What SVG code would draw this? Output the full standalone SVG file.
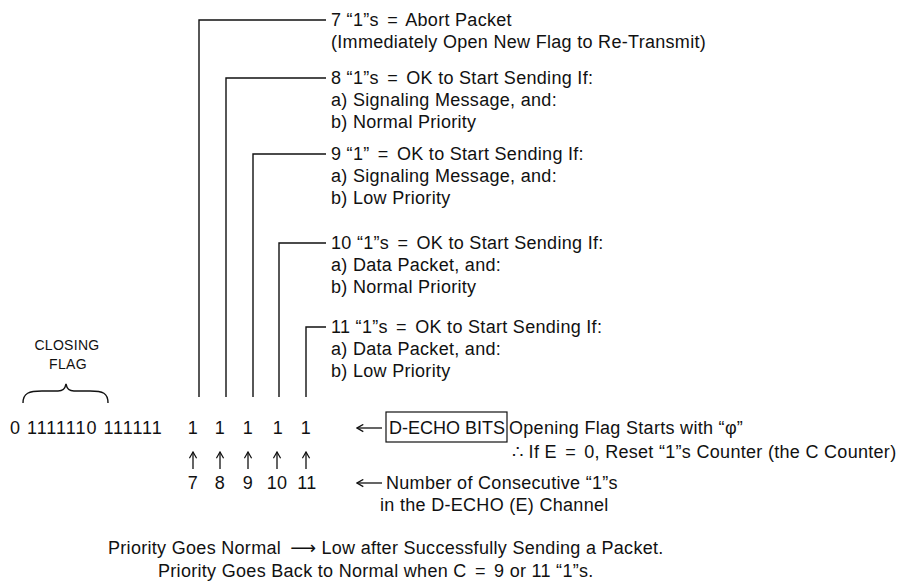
<svg xmlns="http://www.w3.org/2000/svg" width="906" height="587" viewBox="0 0 906 587">
<defs>
<style>
text{font-family:"Liberation Sans",Arial,Helvetica,sans-serif;font-size:18px;fill:#111;letter-spacing:0.3px}
.small{font-size:14px;letter-spacing:0.3px}
.bits{letter-spacing:1px}
.box{letter-spacing:0}
.ln{fill:none;stroke:#111;stroke-width:1.4}
.ar{fill:none;stroke:#111;stroke-width:1.3}
.la{font-family:"DejaVu Sans",sans-serif;letter-spacing:0}
</style>
<marker id="head" viewBox="0 0 10 10" refX="9" refY="5" markerWidth="9" markerHeight="9" markerUnits="userSpaceOnUse" orient="auto">
<path d="M2,1 L9,5 L2,9" fill="none" stroke="#111" stroke-width="1.4"/>
</marker>
</defs>
<rect width="906" height="587" fill="#fff"/>

<g id="connectors">
<path class="ln" d="M199,397 V20 H326"/>
<path class="ln" d="M226,397 V78 H326"/>
<path class="ln" d="M253,397 V154 H326"/>
<path class="ln" d="M279,397 V243 H326"/>
<path class="ln" d="M306,397 V327 H326"/>
</g>

<g id="note7">
<text x="331" y="26">7 “1”s <tspan dx="3">=</tspan><tspan dx="3"> Abort Packet</tspan></text>
<text x="331" y="48">(Immediately Open New Flag to Re-Transmit)</text>
</g>
<g id="note8">
<text x="331" y="84">8 “1”s <tspan dx="3">=</tspan><tspan dx="3"> OK to Start Sending If:</tspan></text>
<text x="331" y="106">a) Signaling Message, and:</text>
<text x="331" y="128">b) Normal Priority</text>
</g>
<g id="note9">
<text x="331" y="160">9 “1” <tspan dx="3">=</tspan><tspan dx="3"> OK to Start Sending If:</tspan></text>
<text x="331" y="182">a) Signaling Message, and:</text>
<text x="331" y="204">b) Low Priority</text>
</g>
<g id="note10">
<text x="331" y="249">10 “1”s <tspan dx="3">=</tspan><tspan dx="3"> OK to Start Sending If:</tspan></text>
<text x="331" y="271">a) Data Packet, and:</text>
<text x="331" y="293">b) Normal Priority</text>
</g>
<g id="note11">
<text x="331" y="333">11 “1”s <tspan dx="3">=</tspan><tspan dx="3"> OK to Start Sending If:</tspan></text>
<text x="331" y="355">a) Data Packet, and:</text>
<text x="331" y="377">b) Low Priority</text>
</g>

<g id="closing-flag">
<text class="small" x="67" y="350" text-anchor="middle">CLOSING</text>
<text class="small" x="68" y="369" text-anchor="middle">FLAG</text>
<path class="ln" d="M23,403 C23,393 29,391 42,391 L58,391 C63,391 65,389 66,384 C67,389 69,391 74,391 L90,391 C103,391 108,393 108,403"/>
</g>

<g id="bits">
<text class="bits" x="10" y="434">0 1111110 111111</text>
<text x="193" y="434" text-anchor="middle">1</text>
<text x="220" y="434" text-anchor="middle">1</text>
<text x="248" y="434" text-anchor="middle">1</text>
<text x="278" y="434" text-anchor="middle">1</text>
<text x="306" y="434" text-anchor="middle">1</text>
</g>

<g id="up-arrows">
<path class="ar" d="M193,469 V452" marker-end="url(#head)"/>
<path class="ar" d="M220,469 V452" marker-end="url(#head)"/>
<path class="ar" d="M248,469 V452" marker-end="url(#head)"/>
<path class="ar" d="M277,469 V452" marker-end="url(#head)"/>
<path class="ar" d="M306,469 V452" marker-end="url(#head)"/>
</g>

<g id="counts">
<text x="193" y="489" text-anchor="middle">7</text>
<text x="220" y="489" text-anchor="middle">8</text>
<text x="248" y="489" text-anchor="middle">9</text>
<text x="277" y="489" text-anchor="middle">10</text>
<text x="307" y="489" text-anchor="middle">11</text>
</g>

<g id="decho">
<path class="ar" d="M382,428 H357" marker-end="url(#head)"/>
<rect x="386" y="412" width="121" height="30" fill="none" stroke="#111" stroke-width="1.2"/>
<text class="box" x="389" y="434">D-ECHO BITS</text>
<text x="509" y="434">Opening Flag Starts with “φ”</text>
<text x="512" y="458">∴ If E <tspan dx="3">=</tspan><tspan dx="3"> 0, Reset “1”s Counter (the C Counter)</tspan></text>
</g>

<g id="count-label">
<path class="ar" d="M382,483 H357" marker-end="url(#head)"/>
<text x="386" y="489">Number of Consecutive “1”s</text>
<text x="380" y="511">in the D-ECHO (E) Channel</text>
</g>

<g id="priority">
<text x="108" y="554">Priority Goes Normal <tspan class="la" dx="4">⟶</tspan> Low after Successfully Sending a Packet.</text>
<text x="158" y="577">Priority Goes Back to Normal when C <tspan dx="3">=</tspan><tspan dx="3"> 9 or 11 “1”s.</tspan></text>
</g>
</svg>
